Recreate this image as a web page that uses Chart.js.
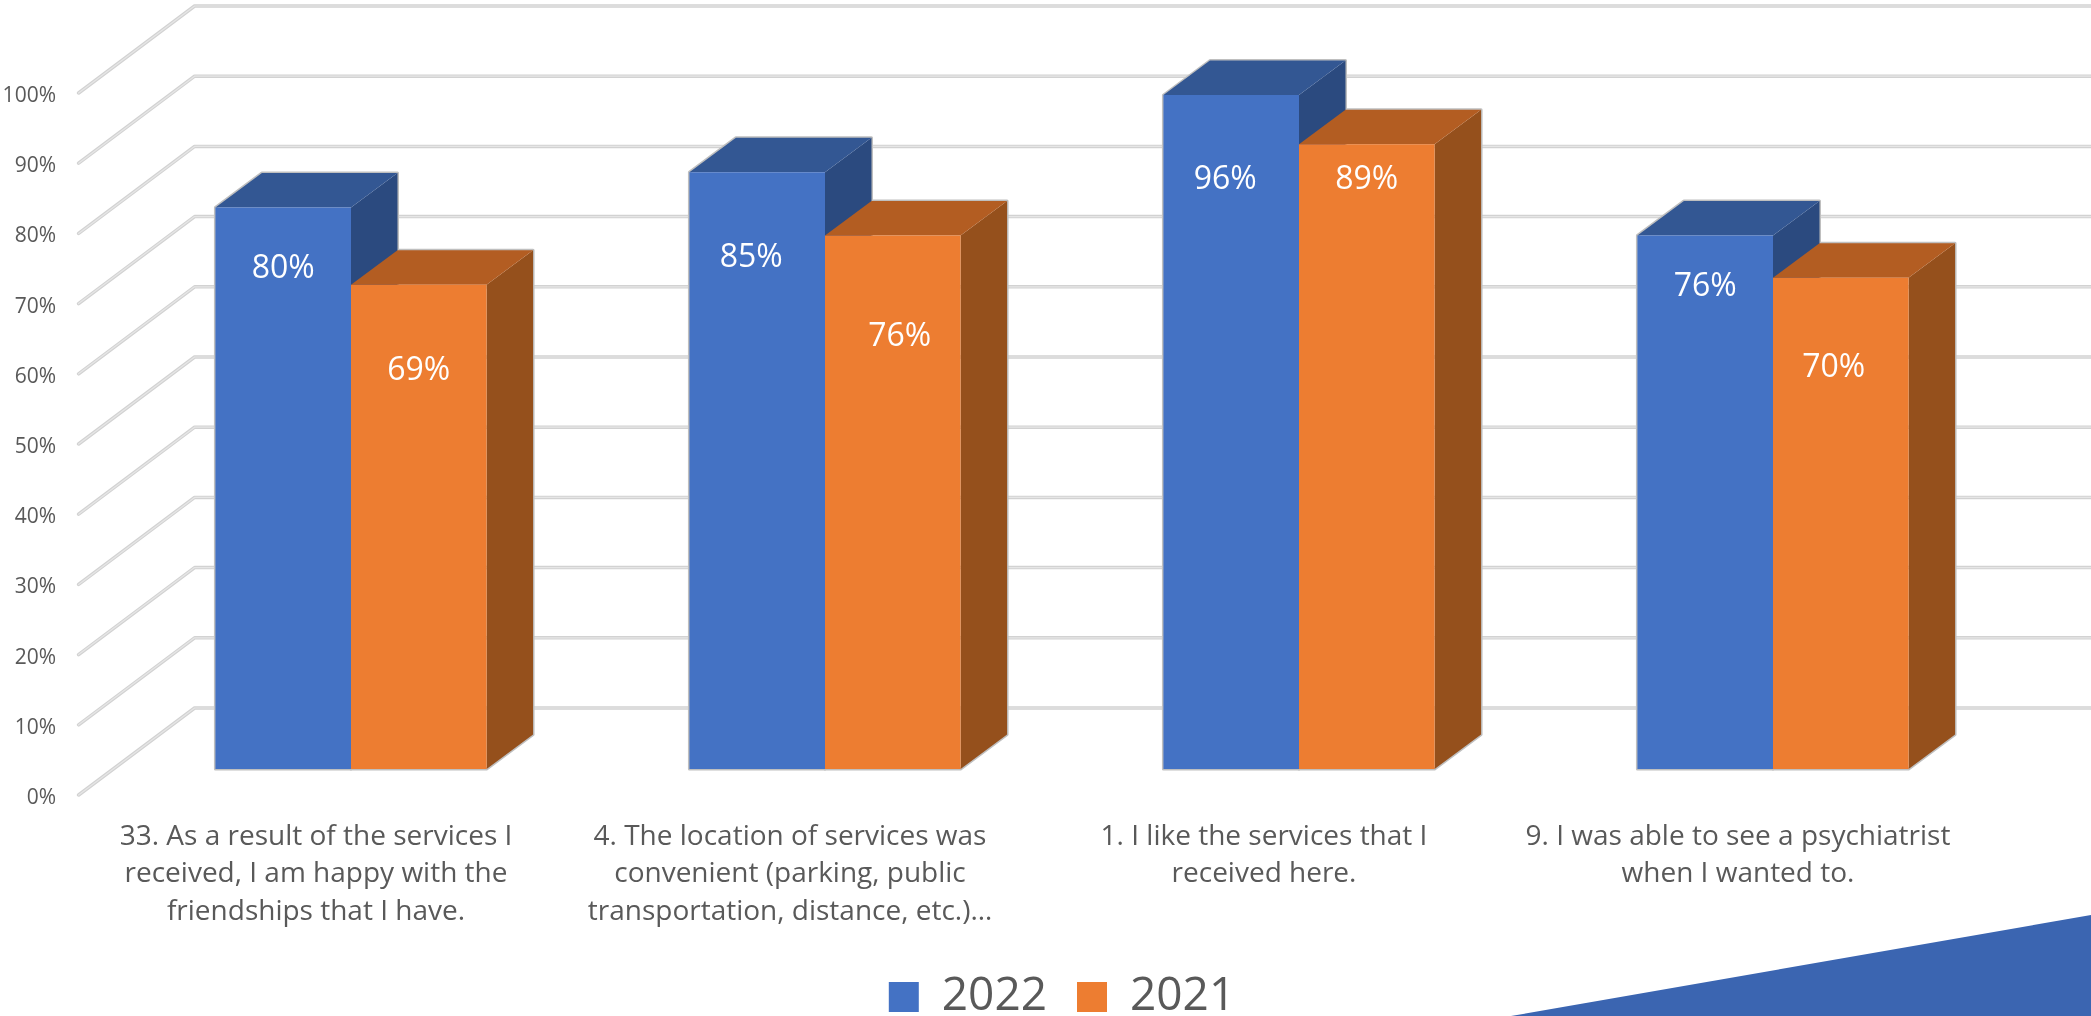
<!DOCTYPE html>
<html>
<head>
<meta charset="utf-8">
<title>Survey results 2022 vs 2021</title>
<script src="https://cdn.jsdelivr.net/npm/chart.js@4"></script>
<style>
    html, body { margin: 0; padding: 0; background: #fff; overflow: hidden; }
    #wrap { position: relative; width: 2091px; height: 1016px; }
    #performanceChart { position: absolute; left: 0; top: 0; }
    /* decorative corner from the slide */
    #corner {
        position: absolute; left: 1511px; top: 915px; width: 580px; height: 101px;
        background: #3B65B1; clip-path: polygon(0 100%, 100% 0, 100% 100%);
    }
</style>
</head>
<body>
<div id="wrap">
    <div id="corner"></div>
    <canvas id="performanceChart" width="2091" height="1016"></canvas>
</div>
<script>
// --- 1. DATA ---
const categories = [
    ["33. As a result of the services I", "received, I am happy with the", "friendships that I have."],
    ["4. The location of services was", "convenient (parking, public", "transportation, distance, etc.)…"],
    ["1. I like the services that I", "received here."],
    ["9. I was able to see a psychiatrist", "when I wanted to."]
];
const values2022 = [80, 85, 96, 76];
const values2021 = [69, 76, 89, 70];
const tickValues = [0, 10, 20, 30, 40, 50, 60, 70, 80, 90, 100];

// --- 2. STYLE CONSTANTS ---
const FONT = "'Open Sans', sans-serif";
const TEXT_COLOR = "#595959";
const WALL_DX = 116, WALL_DY = 87;   // how far the back wall sits behind the axis plane
const BAR_DX = 46.5, BAR_DY = 34.5;  // depth of each 3D bar
const BAR_LIFT = 3.7;                // bar plane is this many % above the axis plane

// label offsets from the bar's top centre (px), as placed in the original
const labelDrop2022 = [61, 86, 85, 51];
const labelDrop2021 = [86, 101, 36, 90];
const labelShift2022 = [0, -6, -6, 0];
const labelShift2021 = [0, 7, 0, -7];

const faceColors = [
    { top: "#335793", side: "#2B4A7F" },
    { top: "#B35D22", side: "#95501C" }
];

// --- 3. 3D PLUGIN ---
function tracePath(ctx, points) {
    ctx.beginPath();
    points.forEach((p, i) => i ? ctx.lineTo(p[0], p[1]) : ctx.moveTo(p[0], p[1]));
    ctx.closePath();
}

function fillFace(ctx, color, points) {
    ctx.fillStyle = color;
    tracePath(ctx, points);
    ctx.fill();
}

function strokeWall(ctx, chart, y, x0) {
    ctx.beginPath();
    ctx.moveTo(x0, y);
    ctx.lineTo(x0 + WALL_DX, y - WALL_DY);
    ctx.lineTo(chart.width, y - WALL_DY);
    ctx.stroke();
}

const bars3d = {
    id: "bars3d",
    afterLayout(chart) {
        // tick labels are clipped to the scale box, so open it up to the canvas edge
        chart.scales.y.left = 0;
    },
    beforeDatasetsDraw(chart) {
        const ctx = chart.ctx;
        const yAxis = chart.scales.y;

        // back wall and side wall lines, a pale centre on a darker edge
        ctx.save();
        ctx.lineCap = "round";
        ctx.lineJoin = "round";
        const x0 = chart.chartArea.left - 35.4;
        tickValues.forEach(v => {
            const y = yAxis.getPixelForValue(v);
            ctx.strokeStyle = "#D2D2D2";
            ctx.lineWidth = 3.5;
            strokeWall(ctx, chart, y, x0);
            ctx.strokeStyle = "#E6E6E6";
            ctx.lineWidth = 1.2;
            strokeWall(ctx, chart, y, x0);
        });

        // faint grey halo round each bar
        ctx.strokeStyle = "#BFBFBF";
        ctx.lineWidth = 3;
        chart.data.datasets.forEach((ds, d) => {
            chart.getDatasetMeta(d).data.forEach(bar => {
                const l = bar.x - bar.width / 2, r = bar.x + bar.width / 2;
                tracePath(ctx, [
                    [l, bar.base], [l, bar.y], [l + BAR_DX, bar.y - BAR_DY],
                    [r + BAR_DX, bar.y - BAR_DY], [r + BAR_DX, bar.base - BAR_DY], [r, bar.base]
                ]);
                ctx.stroke();
            });
        });
        ctx.restore();

        // side and top faces, blue first so orange overlaps it
        chart.data.datasets.forEach((ds, d) => {
            chart.getDatasetMeta(d).data.forEach(bar => {
                const l = bar.x - bar.width / 2, r = bar.x + bar.width / 2;
                fillFace(ctx, faceColors[d].side, [
                    [r, bar.y], [r + BAR_DX, bar.y - BAR_DY],
                    [r + BAR_DX, bar.base - BAR_DY], [r, bar.base]
                ]);
                fillFace(ctx, faceColors[d].top, [
                    [l, bar.y], [l + BAR_DX, bar.y - BAR_DY],
                    [r + BAR_DX, bar.y - BAR_DY], [r, bar.y]
                ]);
            });
        });
    },
    afterDatasetsDraw(chart) {
        const ctx = chart.ctx;
        ctx.save();
        ctx.fillStyle = "#fff";
        ctx.font = "32px " + FONT;
        ctx.textAlign = "center";
        ctx.textBaseline = "middle";
        chart.data.datasets.forEach((ds, d) => {
            const drops = d === 0 ? labelDrop2022 : labelDrop2021;
            const shifts = d === 0 ? labelShift2022 : labelShift2021;
            chart.getDatasetMeta(d).data.forEach((bar, i) => {
                ctx.fillText(ds.data[i] + "%", bar.x + shifts[i], bar.y + drops[i]);
            });
        });
        ctx.restore();
    }
};

// --- 4. CHART ---
new Chart(document.getElementById("performanceChart").getContext("2d"), {
    type: "bar",
    data: {
        labels: categories,
        datasets: [
            { label: "2022", data: values2022, backgroundColor: "#4472C4", yAxisID: "yBars" },
            { label: "2021", data: values2021, backgroundColor: "#ED7D31", yAxisID: "yBars" }
        ]
    },
    options: {
        responsive: false,
        animation: false,
        layout: { padding: { top: 93, left: 114, right: 81, bottom: -14 } },
        datasets: { bar: { barPercentage: 1, categoryPercentage: 0.572 } },
        plugins: {
            tooltip: { enabled: false },
            legend: {
                position: "bottom",
                labels: {
                    boxWidth: 30,
                    boxHeight: 30,
                    padding: 30,
                    color: TEXT_COLOR,
                    font: { family: FONT, size: 46 }
                }
            }
        },
        scales: {
            x: {
                grid: { display: false },
                border: { display: false },
                afterFit(scale) { scale.height = 149; },
                ticks: {
                    autoSkip: false,
                    maxRotation: 0,
                    padding: 15,
                    labelOffset: -35,
                    color: TEXT_COLOR,
                    font: { family: FONT, size: 28, lineHeight: 1.34 }
                }
            },
            y: {
                min: 0,
                max: 100,
                grid: { display: false },
                border: { display: false },
                afterFit(scale) { scale.width = 0; },
                ticks: {
                    stepSize: 10,
                    padding: 50,
                    labelOffset: 3,
                    color: TEXT_COLOR,
                    font: { family: FONT, size: 21 },
                    callback: v => v + "%"
                }
            },
            yBars: {
                display: false,
                min: -BAR_LIFT,
                max: 100 - BAR_LIFT
            }
        }
    },
    plugins: [bars3d]
});
</script>
</body>
</html>
